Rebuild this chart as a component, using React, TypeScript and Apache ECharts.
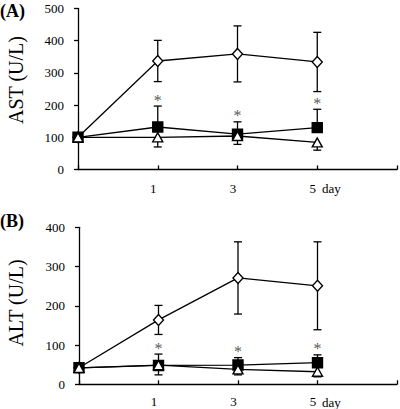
import React, { useEffect, useRef } from "react";
import * as echarts from "echarts";

const dayLabels = ["0", "1", "3", "5", ""];

// (A) AST (U/L)
const astOpenDiamond = [100, 337, 359, 334];
const astOpenDiamondSD = [0, 64, 87, 92];
const astFilledSquare = [100, 132, 110, 130];
const astFilledSquareSD = [0, 65, 38, 57];
const astOpenTriangle = [100, 100, 104, 84];
const astOpenTriangleSD = [0, 30, 26, 24];
const astStars = [null, 224, 176, 213];

// (B) ALT (U/L)
const altOpenDiamond = [42, 164, 271, 251];
const altOpenDiamondSD = [0, 37, 92, 112];
const altFilledSquare = [42, 48, 49, 55];
const altFilledSquareSD = [0, 29, 19, 20];
const altOpenTriangle = [42, 49, 38, 32];
const altOpenTriangleSD = [0, 25, 14, 13];
const altStars = [null, 98, 92, 98];

const SERIF = "Liberation Serif";

function errorSeries(axis: number, vals: number[], sds: number[], dir: "both" | "up" | "down") {
  return {
    type: "custom",
    xAxisIndex: axis,
    yAxisIndex: axis,
    z: 2,
    silent: true,
    data: vals.map((v, i) => [i, v, sds[i]]),
    renderItem: (params: any, api: any) => {
      const x = api.value(0);
      const v = api.value(1);
      const sd = api.value(2);
      if (!sd) return null;
      const hi = dir !== "down" ? v + sd : v;
      const lo = dir !== "up" ? v - sd : v;
      const pHi = api.coord([x, hi]);
      const pLo = api.coord([x, lo]);
      const cap = 4;
      const st = { stroke: "#000", lineWidth: 1.3 };
      const children: any[] = [
        { type: "line", shape: { x1: pHi[0], y1: pHi[1], x2: pLo[0], y2: pLo[1] }, style: st },
      ];
      if (dir !== "down")
        children.push({ type: "line", shape: { x1: pHi[0] - cap, y1: pHi[1], x2: pHi[0] + cap, y2: pHi[1] }, style: st });
      if (dir !== "up")
        children.push({ type: "line", shape: { x1: pLo[0] - cap, y1: pLo[1], x2: pLo[0] + cap, y2: pLo[1] }, style: st });
      return { type: "group", children };
    },
  };
}

function lineSeries(axis: number, vals: number[], symbol: string, size: any, fill: string) {
  return {
    type: "line",
    xAxisIndex: axis,
    yAxisIndex: axis,
    z: 3,
    data: vals,
    symbol,
    symbolSize: size,
    showAllSymbol: true,
    lineStyle: { color: "#000", width: 1.3 },
    itemStyle: { color: fill, borderColor: "#000", borderWidth: 1.4 },
  };
}

function starSeries(axis: number, vals: (number | null)[]) {
  const data: any[] = [];
  vals.forEach((v, i) => {
    if (v != null) data.push([i, v]);
  });
  return {
    type: "scatter",
    xAxisIndex: axis,
    yAxisIndex: axis,
    z: 4,
    data,
    symbol: "circle",
    symbolSize: 0,
    itemStyle: { color: "#000" },
    label: {
      show: true,
      position: "top",
      distance: 0,
      formatter: "*",
      fontFamily: SERIF,
      fontSize: 16,
      color: "#2a2a2a",
      textBorderWidth: 0,
      offset: [0, 11],
    },
  };
}

function xAxis(gridIndex: number, margin: number) {
  return {
    type: "category",
    gridIndex,
    data: dayLabels,
    boundaryGap: false,
    axisLine: { lineStyle: { color: "#000", width: 1.3 } },
    axisTick: { inside: true, length: 4, lineStyle: { color: "#000", width: 1.3 } },
    axisLabel: {
      color: "#000",
      fontFamily: SERIF,
      fontSize: 13,
      margin,
      padding: [0, 9, 0, 0],
      formatter: (v: string) => (v === "0" ? "" : v),
    },
    splitLine: { show: false },
  };
}

function yAxis(gridIndex: number, max: number) {
  return {
    type: "value",
    gridIndex,
    min: 0,
    max,
    interval: 100,
    axisLine: { show: true, lineStyle: { color: "#000", width: 1.3 } },
    axisTick: { show: true, length: 4, lineStyle: { color: "#000", width: 1.3 } },
    axisLabel: { color: "#000", fontFamily: SERIF, fontSize: 13, margin: 14 },
    splitLine: { show: false },
  };
}

function txt(text: string, x: number, y: number, size: number, opts: any = {}) {
  return {
    type: "text",
    x,
    y,
    rotation: opts.rotation || 0,
    style: {
      text,
      fontFamily: SERIF,
      fontSize: size,
      fontWeight: opts.bold ? "bold" : "normal",
      fill: "#000",
      align: opts.align || "left",
      verticalAlign: "middle",
    },
  };
}

export default function App() {
  const ref = useRef<HTMLDivElement>(null);
  useEffect(() => {
    if (!ref.current) return;
    const chart = echarts.init(ref.current, null, { renderer: "svg" });
    chart.setOption({
      animation: false,
      backgroundColor: "#fff",
      grid: [
        { left: 78, top: 8.5, width: 321, height: 161 },
        { left: 79, top: 227.3, width: 320, height: 157 },
      ],
      xAxis: [xAxis(0, 12), xAxis(1, 11)],
      yAxis: [yAxis(0, 500), yAxis(1, 400)],
      series: [
        errorSeries(0, astOpenDiamond, astOpenDiamondSD, "both"),
        errorSeries(0, astFilledSquare, astFilledSquareSD, "up"),
        errorSeries(0, astOpenTriangle, astOpenTriangleSD, "down"),
        lineSeries(0, astOpenDiamond, "diamond", [10, 11], "#fff"),
        lineSeries(0, astFilledSquare, "rect", 10, "#000"),
        lineSeries(0, astOpenTriangle, "triangle", [10, 9], "#fff"),
        starSeries(0, astStars),
        errorSeries(1, altOpenDiamond, altOpenDiamondSD, "both"),
        errorSeries(1, altFilledSquare, altFilledSquareSD, "up"),
        errorSeries(1, altOpenTriangle, altOpenTriangleSD, "down"),
        lineSeries(1, altOpenDiamond, "diamond", [10, 11], "#fff"),
        lineSeries(1, altFilledSquare, "rect", 10, "#000"),
        lineSeries(1, altOpenTriangle, "triangle", [10, 9], "#fff"),
        starSeries(1, altStars),
      ],
      graphic: [
        txt("(A)", 0, 11, 18, { bold: true }),
        txt("(B)", 0, 221, 18, { bold: true }),
        txt("AST (U/L)", 16, 80, 20, { rotation: Math.PI / 2, align: "center" }),
        txt("ALT (U/L)", 16, 303, 20, { rotation: Math.PI / 2, align: "center" }),
        txt("day", 322, 188, 13),
        txt("day", 322, 402, 13),
      ],
    });
    return () => chart.dispose();
  }, []);
  return <div ref={ref} style={{ position: "fixed", left: 0, top: 0, width: 400, height: 409 }} />;
}
